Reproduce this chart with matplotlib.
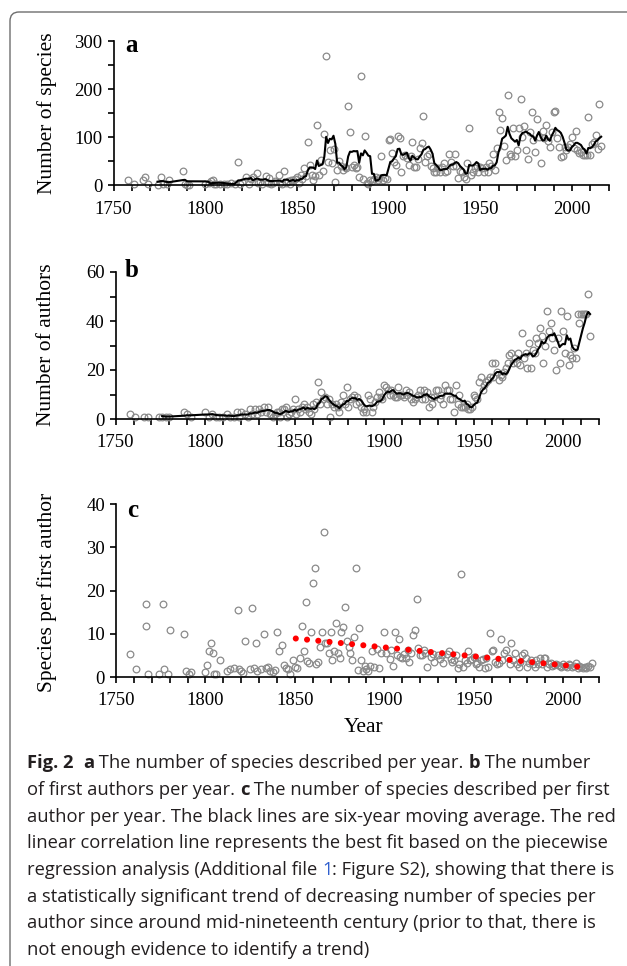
import numpy as np
import pandas as pd
import matplotlib
matplotlib.use("Agg")
import matplotlib.pyplot as plt
from matplotlib.patches import FancyBboxPatch
from matplotlib.transforms import IdentityTransform
from matplotlib.ticker import MultipleLocator

# ---------------- data ----------------
years_a = [1758, 1761, 1766, 1767, 1769, 1774, 1776, 1777, 1779, 1780, 1788, 1789, 1790, 1791,
           1800, 1802, 1803, 1804, 1805, 1806, 1808, 1810, 1812, 1814, 1816, 1818, 1819, 1820,
           1822, 1824, 1825, 1826, 1828, 1829, 1830, 1831, 1833, 1834, 1835, 1836, 1837, 1838,
           1840, 1841, 1842, 1843, 1844, 1845, 1846, 1847, 1848, 1849, 1850, 1851, 1852, 1853,
           1854, 1855, 1856, 1857, 1858, 1859, 1860, 1861, 1862, 1863, 1864, 1865, 1866, 1867,
           1868, 1869, 1870, 1871, 1872, 1873, 1874, 1875, 1876, 1877, 1878, 1879, 1880, 1881,
           1882, 1883, 1884, 1885, 1886, 1887, 1888, 1889, 1890, 1891, 1892, 1893, 1894, 1895,
           1896, 1897, 1898, 1899, 1900, 1901, 1902, 1903, 1904, 1905, 1906, 1907, 1908, 1909,
           1910, 1911, 1912, 1913, 1914, 1915, 1916, 1917, 1918, 1919, 1920, 1921, 1922, 1923,
           1924, 1925, 1926, 1927, 1928, 1929, 1930, 1931, 1932, 1933, 1934, 1935, 1936, 1937,
           1938, 1939, 1940, 1941, 1942, 1943, 1944, 1945, 1946, 1947, 1948, 1949, 1950, 1951,
           1952, 1953, 1954, 1955, 1956, 1957, 1958, 1959, 1960, 1961, 1962, 1963, 1964, 1965,
           1966, 1967, 1968, 1969, 1970, 1971, 1972, 1973, 1974, 1975, 1976, 1977, 1978, 1979,
           1980, 1981, 1982, 1983, 1984, 1985, 1986, 1987, 1988, 1989, 1990, 1991, 1992, 1993,
           1994, 1995, 1996, 1997, 1998, 1999, 2000, 2001, 2002, 2003, 2004, 2005, 2006, 2007,
           2008, 2009, 2010, 2011, 2012, 2013, 2014, 2015, 2016]
species_a = [10, 3, 12, 17, 2, 1, 17, 3, 3, 12, 30, 3, 1, 1,
             2, 5, 9, 11, 2, 3, 2, 2, 3, 4, 2, 48, 3, 7,
             18, 3, 13, 18, 25, 4, 7, 3, 20, 5, 16, 3, 5, 8,
             21, 4, 2, 30, 5, 8, 3, 12, 10, 14, 18, 4, 21, 14,
             37, 20, 89, 42, 21, 11, 20, 126, 21, 53, 30, 107, 268, 49,
             73, 46, 75, 6, 32, 51, 40, 32, 38, 35, 164, 110, 38, 42,
             35, 38, 17, 228, 14, 103, 5, 3, 10, 8, 14, 18, 10, 15,
             60, 12, 15, 14, 94, 97, 67, 49, 42, 103, 98, 27, 60, 62,
             56, 42, 60, 89, 39, 39, 55, 77, 87, 145, 49, 60, 65, 40,
             35, 27, 27, 35, 28, 39, 46, 27, 30, 65, 49, 40, 65, 41,
             16, 30, 27, 18, 14, 46, 120, 21, 28, 35, 40, 28, 39, 35,
             28, 38, 27, 46, 40, 65, 32, 77, 153, 115, 140, 82, 53, 187,
             65, 60, 119, 60, 74, 120, 180, 100, 124, 74, 55, 110, 153, 95,
             69, 138, 100, 46, 112, 98, 126, 93, 80, 110, 153, 155, 98, 80,
             58, 60, 80, 73, 80, 85, 101, 78, 112, 74, 67, 70, 62, 62,
             62, 143, 63, 85, 90, 105, 75, 169, 82]

years_b = [1758, 1761, 1766, 1768, 1774, 1776, 1778, 1780, 1788, 1790, 1792, 1800, 1802, 1804,
           1806, 1808, 1810, 1812, 1814, 1816, 1818, 1819, 1820, 1822, 1824, 1825, 1826, 1828,
           1829, 1830, 1831, 1833, 1834, 1835, 1836, 1837, 1838, 1839, 1840, 1841, 1842, 1843,
           1844, 1845, 1846, 1847, 1848, 1849, 1850, 1851, 1852, 1853, 1854, 1855, 1856, 1857,
           1858, 1859, 1860, 1861, 1862, 1863, 1864, 1865, 1866, 1867, 1868, 1869, 1870, 1871,
           1872, 1873, 1874, 1875, 1876, 1877, 1878, 1879, 1880, 1881, 1882, 1883, 1884, 1885,
           1886, 1887, 1888, 1889, 1890, 1891, 1892, 1893, 1894, 1895, 1896, 1897, 1898, 1899,
           1900, 1901, 1902, 1903, 1904, 1905, 1906, 1907, 1908, 1909, 1910, 1911, 1912, 1913,
           1914, 1915, 1916, 1917, 1918, 1919, 1920, 1921, 1922, 1923, 1924, 1925, 1926, 1927,
           1928, 1929, 1930, 1931, 1932, 1933, 1934, 1935, 1936, 1937, 1938, 1939, 1940, 1941,
           1942, 1943, 1944, 1945, 1946, 1947, 1948, 1949, 1950, 1951, 1952, 1953, 1954, 1955,
           1956, 1957, 1958, 1959, 1960, 1961, 1962, 1963, 1964, 1965, 1966, 1967, 1968, 1969,
           1970, 1971, 1972, 1973, 1974, 1975, 1976, 1977, 1978, 1979, 1980, 1981, 1982, 1983,
           1984, 1985, 1986, 1987, 1988, 1989, 1990, 1991, 1992, 1993, 1994, 1995, 1996, 1997,
           1998, 1999, 2000, 2001, 2002, 2003, 2004, 2005, 2006, 2007, 2008, 2009, 2010, 2011,
           2012, 2013, 2014, 2015]
authors_b = [2, 1, 1, 1, 1, 1, 1, 1, 3, 2, 1, 3, 1, 2,
             1, 1, 1, 2, 1, 1, 3, 1, 3, 2, 1, 4, 2, 4,
             2, 4, 3, 5, 3, 5, 2, 2, 1, 2, 3, 3, 1, 4,
             4, 5, 1, 2, 3, 4, 8, 2, 4, 3, 5, 6, 4, 5,
             3, 2, 6, 4, 7, 15, 6, 11, 8, 9, 6, 8, 1, 6,
             5, 6, 5, 3, 7, 10, 6, 13, 5, 8, 9, 10, 6, 9,
             7, 5, 3, 4, 3, 10, 8, 3, 5, 7, 9, 11, 9, 8,
             14, 13, 12, 10, 12, 10, 9, 9, 13, 10, 10, 9, 12, 10,
             11, 8, 7, 8, 9, 10, 12, 8, 12, 8, 11, 5, 9, 6,
             9, 12, 12, 8, 10, 6, 14, 12, 12, 8, 8, 3, 14, 6,
             10, 5, 5, 5, 6, 4, 4, 5, 10, 9, 8, 15, 17, 12,
             14, 15, 16, 17, 23, 17, 23, 19, 16, 18, 17, 19, 21, 23,
             26, 27, 23, 25, 23, 27, 22, 35, 25, 27, 21, 31, 21, 28,
             27, 33, 31, 37, 34, 23, 30, 44, 36, 39, 33, 28, 20, 33,
             23, 44, 36, 27, 42, 22, 26, 25, 29, 25, 43, 39, 43, 43,
             43, 43, 51, 34]

years_c = [1758, 1761, 1767, 1767, 1768, 1774, 1776, 1777, 1779, 1780, 1788, 1789, 1791, 1792,
           1800, 1801, 1802, 1803, 1804, 1805, 1806, 1808, 1812, 1814, 1816, 1818, 1819, 1820,
           1821, 1822, 1825, 1826, 1827, 1828, 1829, 1831, 1833, 1834, 1835, 1836, 1838, 1839,
           1840, 1841, 1843, 1844, 1845, 1846, 1847, 1849, 1850, 1851, 1853, 1854, 1855, 1856,
           1857, 1858, 1859, 1860, 1861, 1862, 1863, 1864, 1865, 1866, 1867, 1868, 1869, 1870,
           1871, 1872, 1873, 1874, 1875, 1876, 1877, 1878, 1879, 1880, 1881, 1882, 1883, 1884,
           1885, 1886, 1887, 1888, 1889, 1890, 1891, 1892, 1893, 1894, 1896, 1897, 1898, 1900,
           1901, 1903, 1904, 1905, 1906, 1907, 1908, 1909, 1910, 1911, 1912, 1913, 1914, 1915,
           1916, 1917, 1918, 1919, 1920, 1921, 1922, 1923, 1924, 1926, 1927, 1928, 1930, 1931,
           1932, 1933, 1935, 1936, 1937, 1938, 1939, 1940, 1941, 1942, 1943, 1944, 1945, 1946,
           1947, 1948, 1949, 1950, 1951, 1952, 1953, 1954, 1955, 1956, 1957, 1958, 1959, 1960,
           1961, 1962, 1963, 1964, 1965, 1966, 1967, 1968, 1969, 1970, 1971, 1972, 1973, 1974,
           1975, 1976, 1977, 1978, 1979, 1980, 1981, 1982, 1983, 1984, 1985, 1986, 1987, 1988,
           1989, 1990, 1991, 1992, 1993, 1994, 1995, 1996, 1997, 1998, 1999, 2000, 2001, 2002,
           2003, 2004, 2005, 2006, 2007, 2008, 2009, 2010, 2011, 2012, 2013, 2014, 2015, 2016]
ratio_c = [5.3, 1.8, 11.9, 16.9, 0.8, 0.8, 16.9, 1.8, 0.8, 10.9, 9.9, 1.5, 0.8, 1.1,
           1.2, 2.8, 6.0, 7.9, 5.5, 0.8, 0.8, 3.9, 1.5, 1.8, 2.0, 15.5, 1.8, 1.5,
           1.0, 8.4, 1.8, 15.9, 2.0, 7.9, 1.5, 1.8, 9.9, 2.0, 2.2, 1.5, 1.2, 1.6,
           10.4, 5.9, 7.4, 2.8, 2.0, 1.8, 0.8, 3.9, 2.4, 2.0, 4.3, 11.9, 6.0, 17.4,
           3.8, 3.2, 10.4, 21.8, 25.1, 2.9, 3.5, 7.0, 10.4, 33.6, 7.9, 7.9, 5.5, 10.4,
           3.9, 5.9, 12.4, 5.5, 4.3, 10.4, 11.5, 16.3, 8.4, 7.0, 5.5, 3.9, 9.2, 25.3,
           1.6, 11.3, 3.9, 1.5, 2.5, 1.8, 1.5, 2.5, 6.1, 2.4, 6.5, 2.0, 5.5, 10.4,
           5.5, 4.1, 6.2, 2.5, 10.4, 5.1, 8.8, 4.7, 4.5, 5.3, 4.3, 6.2, 3.5, 5.5,
           9.7, 10.9, 18.0, 6.6, 5.1, 5.1, 6.2, 5.5, 2.2, 4.7, 5.3, 3.5, 5.1, 4.1,
           5.1, 3.2, 5.3, 5.9, 4.1, 3.5, 3.9, 5.1, 2.0, 3.0, 23.8, 2.4, 3.9, 3.2,
           5.9, 3.9, 4.2, 4.7, 3.0, 3.3, 2.4, 4.0, 4.1, 2.0, 4.5, 2.2, 10.1, 6.0,
           6.2, 3.5, 3.0, 3.2, 8.8, 4.0, 5.5, 6.2, 4.3, 3.0, 7.8, 4.0, 5.5, 3.0,
           2.4, 3.5, 5.0, 5.5, 4.5, 2.2, 3.2, 3.9, 3.0, 2.4, 4.0, 3.0, 4.3, 3.0,
           4.5, 4.3, 2.4, 3.0, 3.2, 2.5, 2.8, 3.0, 2.8, 2.6, 2.4, 3.0, 2.5, 2.4,
           3.0, 2.8, 2.2, 2.6, 3.3, 2.0, 2.6, 2.4, 2.0, 2.2, 2.0, 2.6, 2.4, 3.3]

fit_years = [1850.5, 2012.5]
fit_ratio = [8.9, 2.2]

# ---------------- figure ----------------
W, H = 627, 966
fig = plt.figure(figsize=(W / 100, H / 100), dpi=100)
fig.patch.set_facecolor("white")

SERIF = ["Liberation Serif", "DejaVu Serif"]
GREY = "#8a8a8a"

frame = FancyBboxPatch((10, -20), 640, 966 - 12 + 20, boxstyle="round,pad=0,rounding_size=9",
                       transform=IdentityTransform(), fill=False, edgecolor="#6d6d6d",
                       linewidth=1.0, zorder=0)
fig.patches.append(frame)


def px_axes(x0, x1, ytop, ybot):
    return fig.add_axes([x0 / W, (H - ybot) / H, (x1 - x0) / W, (ybot - ytop) / H])


def style_axes(ax, ytop, ymajor, yminor):
    ax.set_xlim(1750, 2020)
    ax.set_ylim(0, ytop)
    for s in ("top", "right"):
        ax.spines[s].set_visible(False)
    for s in ("left", "bottom"):
        ax.spines[s].set_linewidth(1.2)
    ax.xaxis.set_major_locator(MultipleLocator(50))
    ax.xaxis.set_minor_locator(MultipleLocator(10))
    ax.yaxis.set_major_locator(MultipleLocator(ymajor))
    ax.yaxis.set_minor_locator(MultipleLocator(yminor))
    ax.tick_params(which="both", direction="out", length=4, width=1.2, color="black")
    ax.tick_params(axis="x", which="major", pad=7, labelsize=13.5)
    ax.tick_params(axis="y", which="major", pad=4, labelsize=13.5)
    for lab in ax.get_xticklabels() + ax.get_yticklabels():
        lab.set_fontfamily(SERIF)
    ax.patch.set_alpha(0)


def scatter_ma(ax, xs, ys):
    ax.plot(xs, ys, "o", mfc="none", mec=GREY, ms=4.8, mew=0.9, clip_on=False, zorder=2)
    ma = pd.Series(ys, dtype=float).rolling(6).mean()
    ax.plot(xs, ma, color="black", lw=1.5, zorder=3)


# panel a
ax_a = px_axes(113.5, 608.5, 41, 185.3)
scatter_ma(ax_a, years_a, species_a)
style_axes(ax_a, 300, 100, 50)

# panel b
ax_b = px_axes(115.6, 599, 272, 419)
scatter_ma(ax_b, years_b, authors_b)
style_axes(ax_b, 60, 20, 10)

# panel c
ax_c = px_axes(116, 599, 504, 677)
ax_c.plot(years_c, ratio_c, "o", mfc="none", mec=GREY, ms=4.8, mew=0.9, clip_on=False, zorder=2)
ax_c.plot(fit_years, fit_ratio, color="#ff0000", lw=4.4, linestyle=(0, (0.001, 1.85)),
          dash_capstyle="round", zorder=4)
style_axes(ax_c, 40, 10, 5)
ax_c.yaxis.set_minor_locator(MultipleLocator(10))


def ftext(x, y, s, **kw):
    fig.text(x / W, (H - y) / H, s, **kw)


ftext(47, 113, "Number of species", rotation=90, ha="center", va="center", fontsize=15.5, family=SERIF)
ftext(47, 345, "Number of authors", rotation=90, ha="center", va="center", fontsize=15.5, family=SERIF)
ftext(47, 592, "Species per first author", rotation=90, ha="center", va="center", fontsize=15.5, family=SERIF)
ftext(125, 52, "a", fontsize=18, fontweight="bold", family=SERIF, va="baseline")
ftext(125, 277, "b", fontsize=18, fontweight="bold", family=SERIF, va="baseline")
ftext(127, 517, "c", fontsize=18, fontweight="bold", family=SERIF, va="baseline")
ftext(364, 728, "Year", ha="center", va="center", fontsize=15.5, family=SERIF)

# ---------------- caption ----------------
CAP_FONT = ["Open Sans", "DejaVu Sans"]
TXT = "#231f20"
LINK = "#2f5fcf"
caption = [
    [("Fig. 2", "bold", TXT), ("  ", "normal", TXT), ("a", "bold", TXT),
     (" The number of species described per year. ", "normal", TXT), ("b", "bold", TXT),
     (" The number", "normal", TXT)],
    [("of first authors per year. ", "normal", TXT), ("c", "bold", TXT),
     (" The number of species described per first", "normal", TXT)],
    [("author per year. The black lines are six-year moving average. The red", "normal", TXT)],
    [("linear correlation line represents the best fit based on the piecewise", "normal", TXT)],
    [("regression analysis (Additional file ", "normal", TXT), ("1", "normal", LINK),
     (": Figure S2), showing that there is", "normal", TXT)],
    [("a statistically significant trend of decreasing number of species per", "normal", TXT)],
    [("author since around mid-nineteenth century (prior to that, there is", "normal", TXT)],
    [("not enough evidence to identify a trend)", "normal", TXT)],
]
line_y = [763, 790, 817, 843.5, 870, 897, 923.5, 950]
x_start = 27

renderer = fig.canvas.get_renderer()


def seg_width(s, weight, size):
    t1 = fig.text(0, 0, s + "|", fontsize=size, fontweight=weight, family=CAP_FONT)
    t2 = fig.text(0, 0, "|", fontsize=size, fontweight=weight, family=CAP_FONT)
    w = t1.get_window_extent(renderer).width - t2.get_window_extent(renderer).width
    t1.remove()
    t2.remove()
    return w


ref_size = 10.0
w_line1 = sum(seg_width(s, wt, ref_size) for s, wt, c in caption[0])
cap_size = ref_size * (588 - x_start) / w_line1

for segs, yy in zip(caption, line_y):
    x = x_start
    for s, wt, c in segs:
        ftext(x, yy, s, fontsize=cap_size, fontweight=wt, color=c, family=CAP_FONT,
              ha="left", va="center")
        x += seg_width(s, wt, cap_size)

fig.savefig("out.png", dpi=100)
